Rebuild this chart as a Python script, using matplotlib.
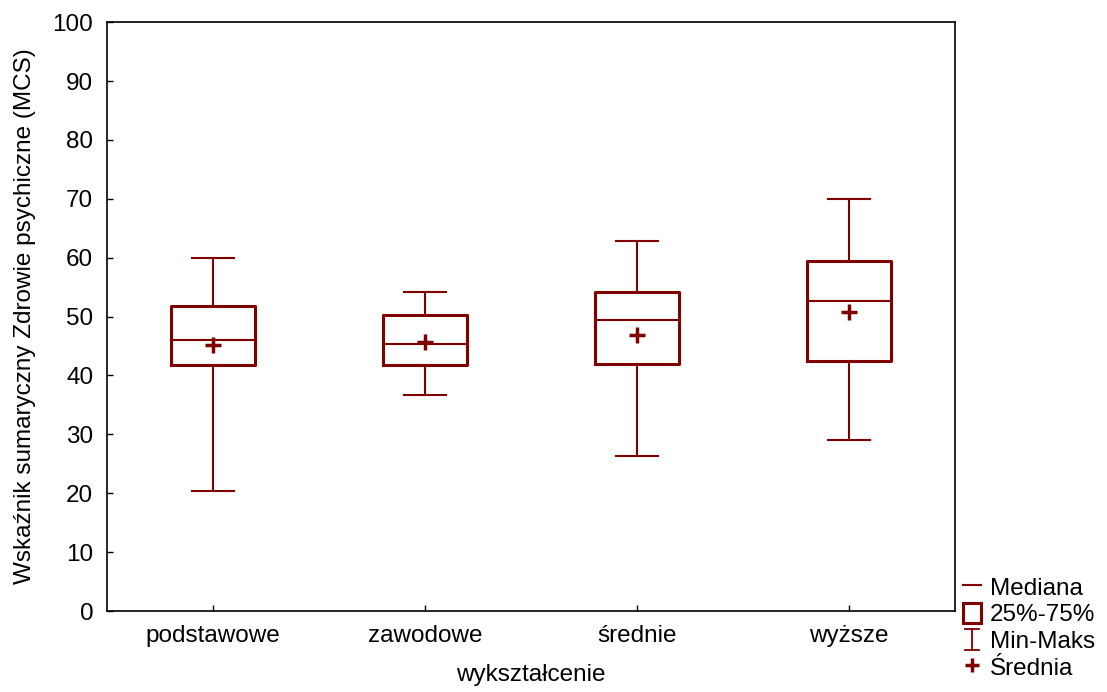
import matplotlib.pyplot as plt
from matplotlib.lines import Line2D
from matplotlib.patches import Rectangle
from matplotlib.legend_handler import HandlerBase

plt.rcParams['font.family'] = ['Liberation Sans', 'DejaVu Sans']

# wykształcenie vs MCS: statystyki opisowe
categories = ['podstawowe', 'zawodowe', 'średnie', 'wyższe']
minimum = [20.3, 36.7, 26.4, 29.1]
q1 = [41.8, 41.8, 42.0, 42.4]
median = [46.0, 45.4, 49.5, 52.7]
q3 = [51.8, 50.2, 54.1, 59.5]
maximum = [60.0, 54.1, 62.8, 70.0]
mean = [45.2, 45.7, 46.9, 50.7]

color = '#800000'
fs = 17.5


class HandlerMinMax(HandlerBase):
    """Symbol wąsów: pionowa kreska z poprzeczkami na końcach."""
    def create_artists(self, legend, orig_handle, xdescent, ydescent,
                       width, height, fontsize, trans):
        cx = width / 2 - xdescent
        y0 = -ydescent
        y1 = height - ydescent
        half = width * 0.4
        kw = dict(color=color, linewidth=1.3, transform=trans)
        return [Line2D([cx, cx], [y0, y1], **kw),
                Line2D([cx - half, cx + half], [y1, y1], **kw),
                Line2D([cx - half, cx + half], [y0, y0], **kw)]


fig = plt.figure(figsize=(11.07, 6.92), dpi=100)
ax = fig.add_axes([0.0967, 0.117, 0.766, 0.851])

stats = []
for i, name in enumerate(categories):
    stats.append({'label': name, 'whislo': minimum[i], 'q1': q1[i],
                  'med': median[i], 'q3': q3[i], 'whishi': maximum[i],
                  'mean': mean[i], 'fliers': []})

ax.bxp(stats, positions=range(len(categories)), widths=0.4,
       showmeans=True, showfliers=False,
       boxprops=dict(color=color, linewidth=2.2),
       medianprops=dict(color=color, linewidth=1.5),
       whiskerprops=dict(color=color, linewidth=1.5),
       capprops=dict(color=color, linewidth=1.5),
       capwidths=0.2,
       meanprops=dict(marker='+', markersize=11, markeredgewidth=2.5,
                      markeredgecolor=color, markerfacecolor=color))

ax.set_xlim(-0.5, 3.5)
ax.set_ylim(0, 100)
ax.set_yticks(range(0, 101, 10))
ax.set_xticks(range(len(categories)))
ax.set_xticklabels(categories)
ax.tick_params(direction='in', length=4, width=1, labelsize=fs, pad=10)
for side in ax.spines.values():
    side.set_linewidth(1.2)

ax.set_xlabel('wykształcenie', fontsize=fs, labelpad=12)
ax.set_ylabel('Wskaźnik sumaryczny Zdrowie psychiczne (MCS)', fontsize=fs, labelpad=12)

# legenda poza obszarem wykresu
minmax = Line2D([], [], color=color)
handles = [
    Line2D([], [], color=color, linewidth=1.5),
    Rectangle((0, 0), 1, 1, facecolor='white', edgecolor=color, linewidth=2.2),
    minmax,
    Line2D([], [], linestyle='none', marker='+', markersize=10,
           markeredgecolor=color, markeredgewidth=2.5),
]
labels = ['Mediana', '25%-75%', 'Min-Maks', 'Średnia']
fig.legend(handles, labels, loc='lower left', bbox_to_anchor=(0.859, 0.0),
           frameon=False, fontsize=fs, handlelength=0.75, handleheight=0.95,
           handletextpad=0.35, labelspacing=0.12, borderpad=0.2,
           borderaxespad=0.3, handler_map={minmax: HandlerMinMax()})

plt.savefig('out.png', dpi=100)
